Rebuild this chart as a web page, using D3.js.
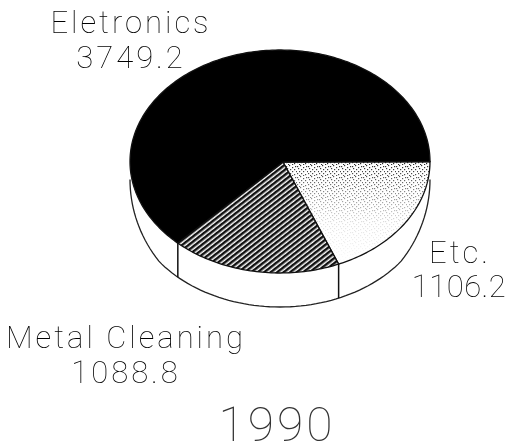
<!DOCTYPE html>
<html>
<head>
    <title>1990</title>
    <style>
        body { margin: 0; background: #fff; }
        svg { will-change: transform; }
        text { font-family: Roboto, "Liberation Sans", sans-serif; font-weight: 100; fill: #000; text-anchor: middle; }
        .label { font-size: 31px; letter-spacing: 3px; }
        .tight { letter-spacing: 0.5px; }
        .title { font-size: 48px; letter-spacing: 3px; fill: #333; }
    </style>
    <script src="https://d3js.org/d3.v7.min.js"></script>
</head>
<body>
    <div id="chart"></div>
    <script>
        var categories = ["Etc.", "Metal Cleaning", "Eletronics"];
        var values = [1106.2, 1088.8, 3749.2];
        var valueLabels = ["1106.2", "1088.8", "3749.2"];
        var chartTitle = "1990";

        var width = 506, height = 446;
        var cx = 280, cy = 161.5, rx = 150, ry = 111.5, depth = 34;
        var apexX = 283, apexY = 162;

        var svg = d3.select("#chart").append("svg")
            .attr("width", width)
            .attr("height", height)
            .style("display", "block");

        var defs = svg.append("defs");

        // hatching for the middle slice
        var hatch = defs.append("pattern")
            .attr("id", "hatch")
            .attr("width", 4)
            .attr("height", 4)
            .attr("patternUnits", "userSpaceOnUse")
            .attr("patternTransform", "rotate(-38)");
        hatch.append("rect").attr("width", 4).attr("height", 4).attr("fill", "#fff");
        hatch.append("rect").attr("width", 4).attr("height", 2.5).attr("fill", "#111");

        // stipple that fades out toward the rim
        var stipple = defs.append("pattern")
            .attr("id", "stipple")
            .attr("width", 11)
            .attr("height", 11)
            .attr("patternUnits", "userSpaceOnUse");
        [[0, 1], [3, 0], [6, 2], [9, 1], [1, 3], [4, 4], [8, 4], [10, 6], [2, 6], [6, 6], [0, 8], [4, 8], [8, 9], [2, 10], [6, 10]].forEach(function(p) {
            stipple.append("rect")
                .attr("x", p[0]).attr("y", p[1])
                .attr("width", 1.2).attr("height", 1.2)
                .attr("fill", "#222");
        });
        var fade = defs.append("linearGradient")
            .attr("id", "fade")
            .attr("x1", 0).attr("y1", 0).attr("x2", 0).attr("y2", 1);
        fade.append("stop").attr("offset", "0%").attr("stop-color", "#fff");
        fade.append("stop").attr("offset", "25%").attr("stop-color", "#999");
        fade.append("stop").attr("offset", "60%").attr("stop-color", "#222");
        fade.append("stop").attr("offset", "100%").attr("stop-color", "#000");
        defs.append("mask")
            .attr("id", "fadeMask")
            .attr("maskContentUnits", "objectBoundingBox")
            .append("rect")
            .attr("width", 1).attr("height", 1)
            .attr("fill", "url(#fade)");

        // pie starts at 3 o'clock and runs clockwise
        var pie = d3.pie().sort(null)
            .startAngle(Math.PI / 2)
            .endAngle(Math.PI / 2 + 2 * Math.PI);
        var arcs = pie(values);

        var px = function(a) { return cx + rx * Math.sin(a); };
        var py = function(a) { return cy - ry * Math.cos(a); };

        // side wall, lower half of the ellipse dropped by depth, tucking in at both ends
        var wallDrop = function(a) { return Math.min(depth, 18 + 27 * Math.abs(Math.cos(a))); };
        var wallAngles = d3.range(Math.PI / 2, Math.PI * 1.5 + 0.001, Math.PI / 90);
        svg.append("path")
            .attr("d", d3.line().x(px).y(function(a) { return py(a) + wallDrop(a); })(wallAngles))
            .attr("fill", "none")
            .attr("stroke", "#222")
            .attr("stroke-width", 1.3);

        // vertical edges where the slices meet the wall
        svg.selectAll(".edge")
            .data(arcs.slice(0, 2))
            .enter()
            .append("line")
            .attr("class", "edge")
            .attr("x1", function(d) { return px(d.endAngle); })
            .attr("y1", function(d) { return py(d.endAngle); })
            .attr("x2", function(d) { return px(d.endAngle); })
            .attr("y2", function(d) { return py(d.endAngle) + depth; })
            .attr("stroke", "#111")
            .attr("stroke-width", 1.5);

        // top face, each slice is the ellipse rim closed back at the apex
        var slicePoints = function(d) {
            var steps = d3.range(d.startAngle, d.endAngle, 0.02).concat([d.endAngle]);
            return [[apexX, apexY]].concat(steps.map(function(a) { return [px(a), py(a)]; }));
        };
        var polygon = d3.line().curve(d3.curveLinearClosed);

        var face = svg.append("g");
        face.selectAll(".slice")
            .data(arcs)
            .enter()
            .append("path")
            .attr("class", "slice")
            .attr("d", function(d) { return polygon(slicePoints(d)); })
            .attr("fill", function(d, i) { return ["#fff", "url(#hatch)", "#000"][i]; })
            .attr("stroke", "#111")
            .attr("stroke-width", 1.3);
        face.append("path")
            .attr("d", polygon(slicePoints(arcs[0])))
            .attr("fill", "url(#stipple)")
            .attr("mask", "url(#fadeMask)");

        // labels
        var labelPos = [[460, 263, 459, 297], [126, 348, 126, 383], [131, 33, 131, 68]];
        categories.forEach(function(name, i) {
            svg.append("text").attr("class", "label")
                .attr("x", labelPos[i][0]).attr("y", labelPos[i][1]).text(name);
            svg.append("text").attr("class", i == 0 ? "label tight" : "label")
                .attr("x", labelPos[i][2]).attr("y", labelPos[i][3]).text(valueLabels[i]);
        });

        svg.append("text").attr("class", "title")
            .attr("x", 277).attr("y", 441)
            .text(chartTitle);
    </script>
</body>
</html>
